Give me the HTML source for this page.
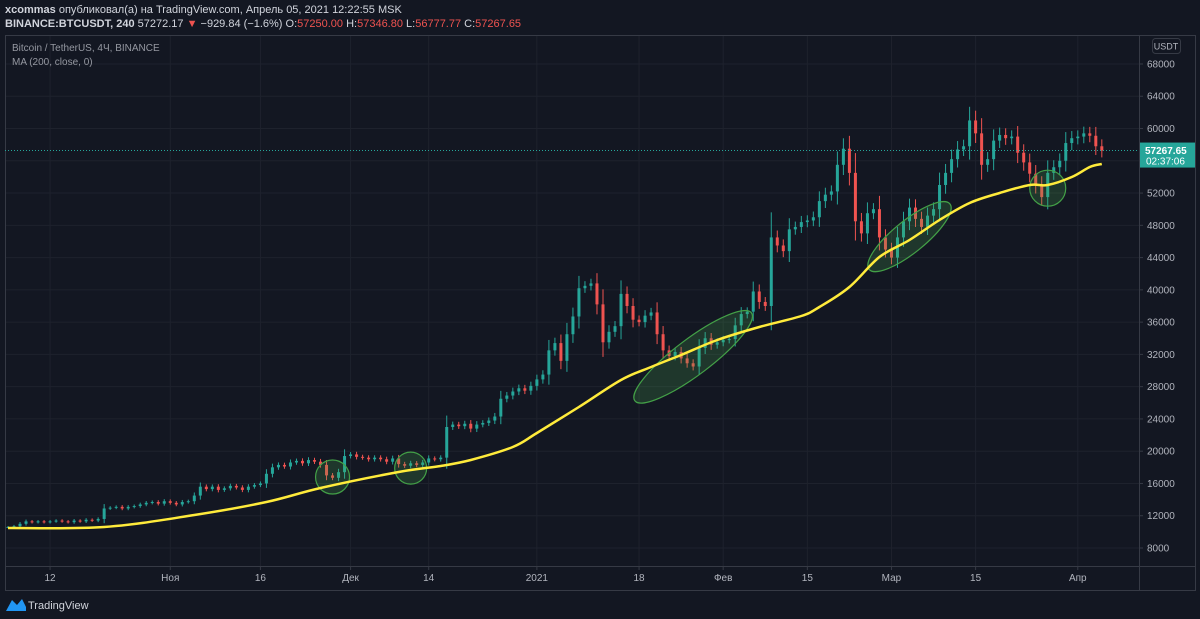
<!DOCTYPE html>
<html><head><meta charset="utf-8"><style>
body{margin:0;background:#131722;width:1200px;height:619px;overflow:hidden;font-family:"Liberation Sans",sans-serif}
svg{display:block}
</style></head><body>
<svg id="c" width="1200" height="619" xmlns="http://www.w3.org/2000/svg">
<rect x="0" y="0" width="1200" height="619" fill="#131722"/>
<text x="5" y="13" font-size="11" fill="#d1d4dc"><tspan font-weight="bold">xcommas</tspan> опубликовал(а) на TradingView.com, Апрель 05, 2021 12:22:55 MSK</text>
<text x="5" y="27" font-size="11" fill="#d1d4dc"><tspan font-weight="bold">BINANCE:BTCUSDT, 240</tspan> 57272.17 <tspan fill="#ef5350">▼</tspan> −929.84 (−1.6%) O:<tspan fill="#ef5350">57250.00</tspan> H:<tspan fill="#ef5350">57346.80</tspan> L:<tspan fill="#ef5350">56777.77</tspan> C:<tspan fill="#ef5350">57267.65</tspan></text>
<g id="grid"></g>
<rect x="5.5" y="35.5" width="1190" height="555" fill="none" stroke="#363a45"/>
<line x1="1139.5" y1="35" x2="1139.5" y2="590" stroke="#363a45"/>
<line x1="5" y1="566.5" x2="1195" y2="566.5" stroke="#363a45"/>
<text x="12" y="51" font-size="10" fill="#9598a1">Bitcoin / TetherUS, 4Ч, BINANCE</text>
<text x="12" y="65" font-size="10" fill="#9598a1">MA (200, close, 0)</text>
<g id="ticks"></g>
<g id="candles"></g>
<g id="zones"></g>
<path id="ma" fill="none" stroke="#ffeb3b" stroke-width="2.5" stroke-linejoin="round"/>
<line x1="5" y1="0" x2="1139" y2="0" id="pl" stroke="#26a69a" stroke-dasharray="1,2"/>
<g id="plabel"></g>
<rect x="1152.5" y="38.5" width="28" height="15" rx="3" fill="none" stroke="#363a45"/>
<text x="1166" y="49.5" font-size="9" fill="#b2b5be" text-anchor="middle">USDT</text>
<g>
<path d="M6 611 L12 600 L17 605 L22 599 L26 607 L26 611 Z" fill="#2196f3"/>
<text x="28" y="609" font-size="11" fill="#d1d4dc">TradingView</text>
</g>
</svg>
<script>
const priceTicks=[8000,12000,16000,20000,24000,28000,32000,36000,40000,44000,48000,52000,56000,60000,64000,68000];
const timeLabels=["12","Ноя","16","Дек","14","2021","18","Фев","15","Мар","15","Апр"];
const timeLabelDays=[7,27,42,57,70,88,105,119,133,147,161,178];
const closes=[10600,10700,11000,11300,11200,11300,11200,11300,11400,11300,11200,11400,11300,11500,11400,11600,12900,
13000,13100,12900,13100,13200,13400,13600,13700,13500,13800,13600,13400,13700,13800,14500,15600,
15300,15600,15200,15400,15700,15500,15200,15600,15800,16000,17200,18000,18300,18100,18600,18800,18500,18900,18700,18300,
17000,16700,17400,19400,19600,19300,19200,19000,19200,19000,18700,19100,18400,18200,18500,18300,18600,19100,19000,19200,
23000,23300,23100,23400,22800,23300,23500,23800,24300,26500,26900,27400,27800,27500,28100,28900,29500,32500,33400,31200,
34500,36700,40200,40500,40800,38200,33500,34800,35500,39500,38000,36300,36000,36800,37200,34500,32500,31800,32300,31500,
30900,30500,32800,34000,33200,33500,33800,33900,35600,37000,37300,39800,38500,38000,46500,45500,44800,47500,47800,48400,
48600,49000,51000,51800,52200,55500,57500,54500,48500,47000,49500,50000,46500,45000,44000,46500,48500,50200,48800,47800,
49200,50000,53000,54500,56200,57400,57800,61000,59400,55500,56200,58500,59200,58800,59000,57000,55800,54400,53000,51500,
54500,55200,56000,58200,58800,59000,59400,59100,57800,57267];
const maDays=[0,16,31,43,52,65,72,77,84,88,95,102,107,112,118,125,132,135,140,145,150,155,160,165,170,173,177,180,182];
const maValues=[10480,10600,12090,13700,15440,17420,18170,18910,20520,22260,25480,28830,30440,31930,33780,35400,36760,37870,40350,44070,46180,48660,50770,52010,53000,53000,53990,55230,55600];
const lastPrice=57267.65;
const zoneDays=[54,67,114,150,173];
const zonePrices=[16800,17900,31700,46600,52600];
const zoneRx=[17,16,73,52,18];
const zoneRy=[17,16,18,16,18];
const zoneAngle=[0,0,-37,-39,0];

const NS="http://www.w3.org/2000/svg";
const X=d=>8+6.01*d;
const Y=p=>548-(p-8000)*0.008067;
function mk(t,a,parent){const e=document.createElementNS(NS,t);for(const k in a)e.setAttribute(k,a[k]);parent.appendChild(e);return e;}
const grid=document.getElementById('grid'),ticks=document.getElementById('ticks');
priceTicks.forEach(p=>{
  const l=mk('line',{x1:5,x2:1139,y1:Y(p),y2:Y(p),stroke:'#1e222d'},grid);
  
  
  const t=mk('text',{x:1147,y:Y(p)+3.5,'font-size':10,fill:'#b2b5be'},ticks);
  t.textContent=p;
  
  
  mk('line',{x1:1139,x2:1143,y1:Y(p),y2:Y(p),stroke:'#363a45'},ticks);
});
timeLabels.forEach((s,i)=>{
  const x=X(timeLabelDays[i]);
  const l=mk('line',{x1:x,x2:x,y1:36,y2:566,stroke:'#1e222d'},grid);
  
  
  mk('line',{x1:x,x2:x,y1:566,y2:570,stroke:'#363a45'},ticks);
  const t=mk('text',{x:x,y:581,'font-size':10,fill:'#b2b5be','text-anchor':'middle'},ticks);
  t.textContent=s;
  
  
});
const cg=document.getElementById('candles');
closes.forEach((c,i)=>{
  const o=i?closes[i-1]:c;const up=c>=o;const col=up?'#26a69a':'#ef5350';
  const mv=Math.abs(c-o);
  const hi=Math.max(o,c)+mv*0.3+Math.max(o,c)*0.012,lo=Math.min(o,c)-mv*0.3-Math.min(o,c)*0.012;const x=X(i);
  mk('line',{x1:x,x2:x,y1:Y(hi),y2:Y(lo),stroke:col,'stroke-width':1},cg);
  const top=Y(Math.max(o,c)),h=Math.max(1,Y(Math.min(o,c))-top);
  const r=mk('rect',{x:x-1.5,y:top,width:3,height:h,fill:col},cg);
  
  
});
const zg=document.getElementById('zones');
zoneDays.forEach((d,i)=>{
  const cx=X(d),cy=Y(zonePrices[i]);
  const e=mk('ellipse',{cx:cx,cy:cy,rx:zoneRx[i],ry:zoneRy[i],transform:`rotate(${zoneAngle[i]} ${cx} ${cy})`,fill:'rgba(76,175,80,0.22)',stroke:'#43a047','stroke-width':1.2},zg);
  
  
});
const pts=maDays.map((d,i)=>[X(d),Y(maValues[i])]);
let dpath='M'+pts[0][0].toFixed(1)+' '+pts[0][1].toFixed(1);
for(let i=0;i<pts.length-1;i++){
  const p0=pts[Math.max(0,i-1)],p1=pts[i],p2=pts[i+1],p3=pts[Math.min(pts.length-1,i+2)];
  const c1=[p1[0]+(p2[0]-p0[0])/6,p1[1]+(p2[1]-p0[1])/6],c2=[p2[0]-(p3[0]-p1[0])/6,p2[1]-(p3[1]-p1[1])/6];
  dpath+=` C${c1[0].toFixed(1)} ${c1[1].toFixed(1)} ${c2[0].toFixed(1)} ${c2[1].toFixed(1)} ${p2[0].toFixed(1)} ${p2[1].toFixed(1)}`;
}
document.getElementById('ma').setAttribute('d',dpath);
const pl=document.getElementById('pl');pl.setAttribute('y1',Y(lastPrice));pl.setAttribute('y2',Y(lastPrice));
const lg=document.getElementById('plabel');const ly=Y(lastPrice);
mk('rect',{x:1140,y:ly-8,width:55,height:25,fill:'#26a69a'},lg);
const t1=mk('text',{x:1145,y:ly+3.5,'font-size':10,'font-weight':'bold',fill:'#fff'},lg);t1.textContent=lastPrice.toFixed(2);
const t2=mk('text',{x:1146,y:ly+14,'font-size':10,fill:'#fff'},lg);t2.textContent='02:37:06';
</script>
</body></html>
